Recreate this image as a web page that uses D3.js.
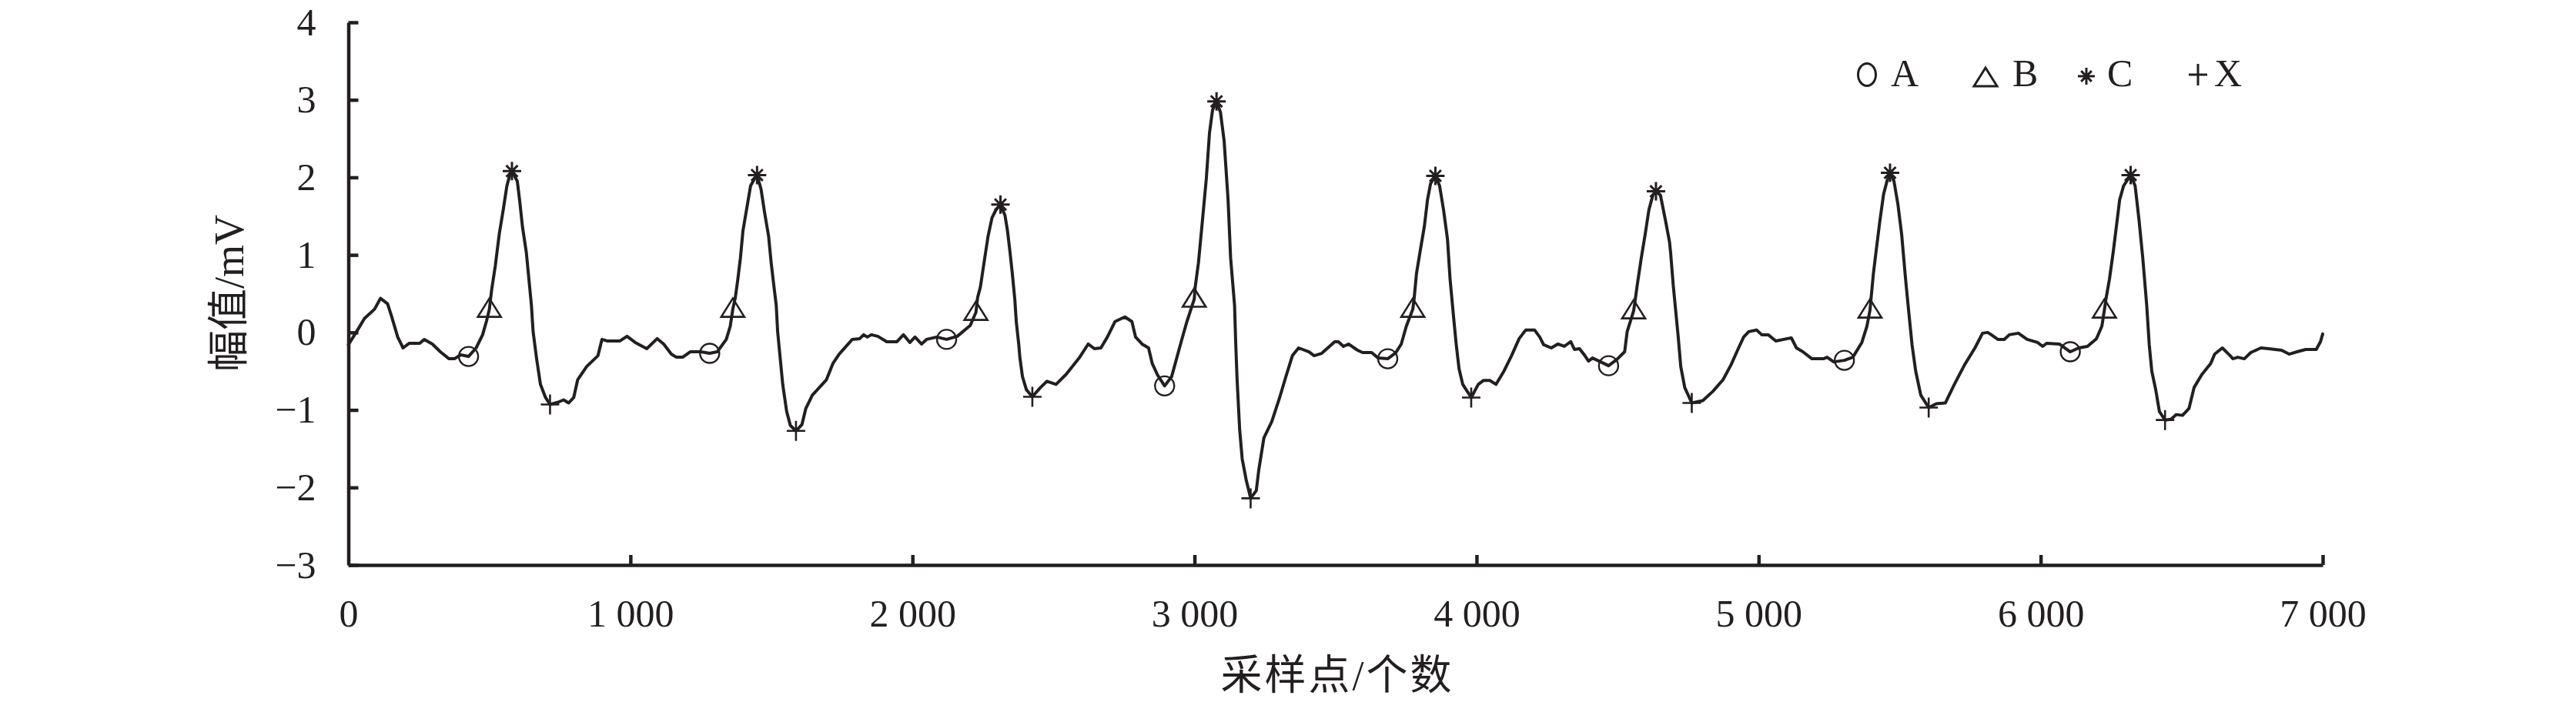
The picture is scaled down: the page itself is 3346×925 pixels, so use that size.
<!DOCTYPE html>
<html>
<head>
<meta charset="utf-8">
<script src="https://cdn.jsdelivr.net/npm/d3@7/dist/d3.min.js"></script>
<style>
  html, body { margin: 0; padding: 0; background: #fff; }
  svg { display: block; }
  text { font-family: "Liberation Serif", "Noto Sans CJK SC", serif; fill: #231f20; }
</style>
</head>
<body>
<script>
// ---- data (sample index, amplitude in mV) ----
const sampleIdx = [0,34,57,93,114,139,153,175,194,216,253,269,298,326,357,376,398,426,453,476,490,500,508,521,535,549,562,573,580,599,608,617,631,640,649,655,667,681,699,715,744,763,781,799,813,845,885,899,917,963,988,1017,1058,1095,1118,1145,1163,1185,1212,1249,1281,1308,1340,1354,1363,1372,1381,1390,1399,1413,1426,1438,1449,1463,1476,1490,1499,1508,1517,1522,1531,1540,1554,1567,1587,1608,1622,1645,1695,1718,1740,1777,1786,1813,1827,1840,1854,1877,1909,1945,1968,1991,2009,2032,2050,2086,2121,2159,2205,2225,2231,2241,2255,2268,2282,2296,2312,2328,2337,2346,2354,2363,2368,2377,2381,2390,2404,2425,2454,2477,2509,2545,2591,2623,2645,2668,2691,2718,2753,2778,2791,2814,2837,2850,2869,2894,2919,2937,2955,2973,2999,3003,3014,3028,3042,3053,3064,3078,3092,3105,3119,3128,3142,3146,3151,3160,3169,3183,3199,3219,3228,3246,3274,3301,3324,3347,3369,3406,3424,3451,3497,3510,3528,3546,3578,3596,3628,3651,3685,3714,3733,3751,3774,3779,3787,3801,3815,3826,3837,3854,3869,3883,3897,3906,3919,3928,3938,3951,3981,4006,4024,4047,4069,4097,4124,4151,4174,4206,4224,4238,4265,4288,4311,4334,4347,4365,4384,4397,4411,4440,4468,4497,4525,4534,4557,4561,4570,4584,4598,4611,4625,4636,4652,4670,4684,4688,4697,4706,4715,4724,4738,4763,4802,4838,4874,4902,4929,4947,4965,4993,5011,5034,5061,5116,5134,5157,5189,5230,5243,5266,5304,5334,5366,5384,5395,5399,5407,5416,5430,5443,5455,5466,5480,5494,5507,5521,5530,5544,5557,5575,5603,5630,5662,5694,5730,5767,5794,5812,5825,5848,5871,5889,5921,5952,5989,6007,6021,6066,6105,6135,6166,6198,6217,6226,6232,6244,6257,6271,6280,6294,6319,6335,6349,6362,6376,6385,6394,6408,6421,6441,6462,6481,6503,6526,6544,6572,6603,6617,6644,6672,6681,6699,6722,6745,6781,6808,6854,6881,6909,6940,6977,6992,7000];
const amplitude = [-0.16,0.04,0.18,0.30,0.44,0.37,0.21,-0.06,-0.20,-0.14,-0.14,-0.09,-0.15,-0.25,-0.34,-0.34,-0.29,-0.31,-0.20,-0.03,0.15,0.30,0.55,0.86,1.27,1.58,1.89,2.04,2.08,1.95,1.68,1.37,1.03,0.69,0.35,0.01,-0.33,-0.67,-0.84,-0.93,-0.90,-0.87,-0.91,-0.84,-0.61,-0.44,-0.30,-0.09,-0.11,-0.11,-0.05,-0.13,-0.21,-0.08,-0.15,-0.28,-0.32,-0.32,-0.25,-0.25,-0.27,-0.25,-0.09,0.08,0.30,0.45,0.69,0.96,1.31,1.61,1.89,1.97,2.03,1.85,1.54,1.24,0.90,0.62,0.35,0.01,-0.33,-0.67,-1.02,-1.20,-1.27,-1.19,-0.98,-0.81,-0.61,-0.40,-0.28,-0.13,-0.09,-0.08,-0.03,-0.06,-0.03,-0.05,-0.12,-0.12,-0.03,-0.13,-0.06,-0.15,-0.09,-0.06,-0.09,-0.05,0.09,0.26,0.45,0.59,0.93,1.24,1.48,1.58,1.65,1.51,1.31,1.03,0.76,0.42,0.14,-0.16,-0.33,-0.57,-0.74,-0.83,-0.71,-0.63,-0.67,-0.54,-0.33,-0.15,-0.21,-0.20,-0.06,0.14,0.20,0.14,-0.06,-0.15,-0.20,-0.40,-0.55,-0.69,-0.57,-0.33,-0.09,0.14,0.43,0.60,0.90,1.44,1.99,2.57,2.87,2.98,2.84,2.47,1.71,0.96,0.35,-0.13,-0.61,-1.25,-1.63,-1.90,-2.14,-2.04,-1.77,-1.36,-1.15,-0.85,-0.57,-0.30,-0.20,-0.25,-0.30,-0.27,-0.12,-0.12,-0.18,-0.15,-0.23,-0.26,-0.26,-0.33,-0.34,-0.26,-0.15,0.08,0.30,0.45,0.76,1.07,1.37,1.71,1.92,2.02,1.89,1.58,1.20,0.69,0.18,-0.16,-0.47,-0.67,-0.84,-0.67,-0.62,-0.62,-0.67,-0.50,-0.30,-0.08,0.03,0.03,-0.06,-0.16,-0.20,-0.15,-0.18,-0.12,-0.22,-0.21,-0.30,-0.37,-0.33,-0.38,-0.43,-0.35,-0.25,0.01,0.28,0.38,0.62,0.96,1.27,1.58,1.77,1.82,1.77,1.44,1.17,1.03,0.62,0.28,-0.06,-0.44,-0.71,-0.91,-0.88,-0.76,-0.61,-0.42,-0.20,-0.06,0.01,0.03,-0.03,-0.03,-0.11,-0.07,-0.20,-0.25,-0.34,-0.34,-0.32,-0.38,-0.36,-0.32,-0.13,0.08,0.29,0.45,0.76,1.03,1.44,1.78,1.95,2.06,1.95,1.65,1.27,0.69,0.35,-0.16,-0.50,-0.81,-0.97,-0.92,-0.91,-0.67,-0.42,-0.20,-0.01,0.00,-0.03,-0.09,-0.09,-0.03,-0.01,-0.09,-0.13,-0.18,-0.14,-0.15,-0.25,-0.20,-0.18,-0.08,0.08,0.29,0.44,0.69,1.03,1.44,1.71,1.89,2.03,1.89,1.44,0.96,0.35,-0.16,-0.50,-0.74,-1.02,-1.13,-1.12,-1.06,-1.07,-0.98,-0.71,-0.54,-0.40,-0.28,-0.20,-0.30,-0.34,-0.32,-0.34,-0.26,-0.20,-0.21,-0.23,-0.28,-0.25,-0.22,-0.22,-0.12,-0.02];

// characteristic points
const pointA_x = [426,1281,2121,2894,3685,4468,5304,6105];
const pointA_y = [-0.31,-0.27,-0.09,-0.69,-0.34,-0.43,-0.36,-0.25];
const pointB_x = [500,1363,2225,2999,3774,4557,5395,6226];
const pointB_y = [0.30,0.30,0.26,0.43,0.30,0.28,0.29,0.29];
const pointC_x = [580,1449,2312,3078,3854,4636,5466,6319];
const pointC_y = [2.08,2.03,1.65,2.98,2.02,1.82,2.06,2.03];
const pointX_x = [715,1587,2425,3199,3981,4763,5603,6441];
const pointX_y = [-0.93,-1.27,-0.83,-2.14,-0.84,-0.91,-0.97,-1.13];

const xTicks = [0,1000,2000,3000,4000,5000,6000,7000];
const yTicks = [-3,-2,-1,0,1,2,3,4];
const legendLabels = ["A","B","C","X"];
const xTitle = "采样点/个数";
const yTitle = "幅值/mV";

// ---- drawing ----
const W = 3346, H = 925;
const ink = "#231f20";
const svg = d3.select("body").append("svg").attr("width", W).attr("height", H);

const x = d3.scaleLinear().domain([0, 7000]).range([452.5, 3017]);
const y = d3.scaleLinear().domain([-3, 4]).range([734, 29]);

const fmtX = d => d === 0 ? "0" : d3.format(",")(d).replace(/,/g, " ");
const fmtY = d => d < 0 ? "\u2212" + Math.abs(d) : String(d);

const gx = svg.append("g").attr("transform", `translate(0,${y(-3)})`)
  .call(d3.axisBottom(x).tickValues(xTicks).tickFormat(fmtX)
    .tickSizeInner(-13).tickSizeOuter(0).tickPadding(44));
const gy = svg.append("g").attr("transform", `translate(${x(0)},0)`)
  .call(d3.axisLeft(y).tickValues(yTicks).tickFormat(fmtY)
    .tickSizeInner(-13).tickSizeOuter(0).tickPadding(42));

[gx, gy].forEach(g => {
  g.select(".domain").attr("stroke", ink).attr("stroke-width", 4.5);
  g.selectAll(".tick line").attr("stroke", ink).attr("stroke-width", 4.5);
  g.selectAll(".tick text").attr("fill", ink)
    .style("font-family", '"Liberation Serif", serif').style("font-size", "50px");
});
gx.selectAll(".tick").filter(d => d === 0).select("line").remove();

// signal line
const idx = d3.range(sampleIdx.length);
svg.append("path")
  .attr("d", d3.line().x(i => x(sampleIdx[i])).y(i => y(amplitude[i]))(idx))
  .attr("fill", "none").attr("stroke", ink).attr("stroke-width", 4)
  .attr("stroke-linejoin", "round").attr("stroke-linecap", "round");

// marker shapes
function drawCircle(g, cx, cy, rx, ry, sw) {
  g.append("ellipse").attr("cx", cx).attr("cy", cy).attr("rx", rx).attr("ry", ry)
    .attr("fill", "none").attr("stroke", ink).attr("stroke-width", sw);
}
function drawTriangle(g, cx, cy, hw, up, down, sw) {
  g.append("path").attr("d", `M${cx},${cy - up}L${cx + hw},${cy + down}L${cx - hw},${cy + down}Z`)
    .attr("fill", "none").attr("stroke", ink).attr("stroke-width", sw).attr("stroke-linejoin", "miter");
}
function drawStar(g, cx, cy, r, sw) {
  const d = r * 0.62;
  g.append("path").attr("d",
    `M${cx - r},${cy}H${cx + r}M${cx},${cy - r}V${cy + r}M${cx - d},${cy - d}L${cx + d},${cy + d}M${cx - d},${cy + d}L${cx + d},${cy - d}`)
    .attr("fill", "none").attr("stroke", ink).attr("stroke-width", sw);
}
function drawPlus(g, cx, cy, rw, rh, sw) {
  g.append("path").attr("d", `M${cx - rw},${cy}H${cx + rw}M${cx},${cy - rh}V${cy + rh}`)
    .attr("fill", "none").attr("stroke", ink).attr("stroke-width", sw);
}

const gm = svg.append("g");
pointA_x.forEach((s, i) => drawCircle(gm, x(s), y(pointA_y[i]), 12.5, 12.5, 2.4));
pointB_x.forEach((s, i) => drawTriangle(gm, x(s), y(pointB_y[i]), 15, 14, 10, 2.6));
pointC_x.forEach((s, i) => drawStar(gm, x(s), y(pointC_y[i]), 12, 3));
pointX_x.forEach((s, i) => drawPlus(gm, x(s), y(pointX_y[i]), 12, 13, 2.6));

// legend
const gl = svg.append("g");
const legBase = 112;
drawCircle(gl, 2425, 97, 11.5, 14.5, 3);
drawTriangle(gl, 2579, 100, 15, 12, 12, 3);
drawStar(gl, 2710, 99, 11, 3);
drawPlus(gl, 2855, 97, 12, 14, 3);
const legendTextX = [2456, 2614, 2737, 2876];
legendLabels.forEach((t, i) => {
  gl.append("text").attr("x", legendTextX[i]).attr("y", legBase)
    .style("font-size", "50px").text(t);
});

// axis titles
svg.append("text").attr("x", 1737).attr("y", 878)
  .attr("text-anchor", "middle").attr("dominant-baseline", "central")
  .style("font-size", "54px").style("letter-spacing", "3px").text(xTitle);
svg.append("text").attr("transform", "translate(298,381) rotate(-90)")
  .attr("text-anchor", "middle").attr("dominant-baseline", "central")
  .style("font-size", "54px").text(yTitle);
</script>
</body>
</html>
